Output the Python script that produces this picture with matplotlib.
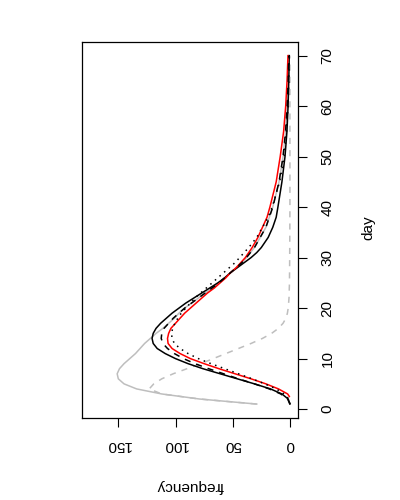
import matplotlib
matplotlib.use("Agg")
import matplotlib.pyplot as plt

plt.rcParams['font.family'] = ['Liberation Sans', 'DejaVu Sans']

# ---- data (day vs frequency) ----
bs_day = [1, 2, 3, 4, 5, 6, 7, 8, 9, 10, 11, 12, 13, 14, 15, 16, 17, 18, 19, 20,
          21, 22, 23, 24, 25, 26, 27, 28, 29, 30, 31, 32, 34, 36, 38, 40, 45, 50, 55, 60, 65, 70]
bs_freq = [0, 1.5, 7, 17, 31, 46, 61, 76, 89, 100, 109, 116, 119.5, 120.5, 119.5, 117, 113, 108, 103, 97,
           91, 84, 77, 70, 63, 57, 52, 46, 40, 34, 29, 25, 19, 15, 12, 10.5, 7, 4.3, 2.6, 1.6, 1.0, 0.6]

bd_day = [1, 2, 3, 4, 5, 6, 7, 8, 9, 10, 11, 12, 13, 14, 15, 16, 17, 18, 19, 20,
          21, 22, 23, 24, 25, 26, 27, 28, 29, 30, 32, 34, 36, 38, 40, 45, 50, 55, 60, 65, 70]
bd_freq = [0, 2, 8, 18, 31, 45, 58, 71, 83, 93, 101, 107, 111, 112.5, 112, 110, 106, 102, 97, 92,
           86, 80, 74, 68, 62, 57, 52, 47, 42, 38, 31, 26, 21, 18, 15, 9.5, 6, 3.8, 2.4, 1.5, 1.0]

red_day = [2.5, 3, 4, 5, 6, 7, 8, 9, 10, 11, 12, 13, 14, 15, 16, 17, 18, 19, 20,
           21, 22, 23, 24, 25, 26, 27, 28, 29, 30, 32, 34, 36, 38, 40, 45, 50, 55, 60, 65, 70]
red_freq = [0.5, 2, 10, 21, 34, 48, 62, 75, 87, 96, 103, 106.5, 107, 106, 104, 100, 96, 92, 87,
            82, 77, 72, 66, 61, 56, 52, 47, 43, 39, 33, 28, 24, 20, 17.5, 12, 8.5, 5.5, 3.7, 2.5, 1.7]

dt_day = [1, 2, 3, 4, 5, 6, 7, 8, 9, 10, 11, 12, 13, 14, 15, 16, 17, 18, 19, 20,
          21, 22, 23, 24, 25, 26, 27, 28, 29, 30, 32, 34, 36, 38, 40, 45, 50, 55, 60, 65, 70]
dt_freq = [0, 1, 5, 12, 22, 33, 45, 57, 69, 80, 89, 96, 101, 103, 103.5, 102.5, 100.5, 98, 95, 91,
           87, 83, 78, 73, 68, 63, 58, 53, 48, 44, 36, 29, 24, 19, 15.5, 9, 5, 3, 1.7, 1.0, 0.6]

gs_day = [1, 2, 3, 4, 5, 6, 7, 8, 9, 10, 11, 12, 13, 14, 15, 16, 17, 18, 19, 20,
          21, 22, 23, 24, 25, 26, 27, 28, 29, 30, 32, 34, 36, 38, 40, 45, 50, 55, 60, 65, 70]
gs_freq = [29, 79, 112, 134, 145, 150, 151, 149, 145, 140, 135, 131, 127, 122, 117, 111, 106, 101, 97, 92,
           86, 80, 74, 68, 62, 57, 52, 47, 42, 38, 31, 26, 21, 18, 15, 9.5, 6, 3.8, 2.4, 1.5, 1.0]

gd_day = [1, 2, 3, 4, 5, 6, 7, 8, 9, 10, 11, 12, 13, 14, 15, 16, 17, 18, 19, 20,
          22, 25, 30, 35, 40, 50, 60, 70]
gd_freq = [29, 79, 112, 123, 119, 112, 102, 90, 78, 67, 56, 45, 34, 24, 16, 10, 6, 3.5, 2.2, 1.5,
           0.8, 0.4, 0.2, 0.1, 0, 0, 0, 0]

freq_ticks = [0, 50, 100, 150]
day_ticks = [0, 10, 20, 30, 40, 50, 60, 70]

GRAY = '#BEBEBE'
FS = 11

fig = plt.figure(figsize=(4, 5), dpi=100)
ax = fig.add_axes([81.7 / 400, 1 - 418 / 500, (297.7 - 81.7) / 400, (418 - 41.7) / 500])

lw = 1.1
ax.plot(gs_freq, gs_day, color=GRAY, lw=lw)
ax.plot(gd_freq, gd_day, color=GRAY, lw=lw, linestyle=(0, (4, 4)))
ax.plot(bs_freq, bs_day, color='black', lw=lw)
ax.plot(red_freq, red_day, color='red', lw=lw)
ax.plot(bd_freq, bd_day, color='black', lw=lw, linestyle=(0, (4, 4)))
ax.plot(dt_freq, dt_day, color='black', lw=lw, linestyle=(0, (1, 3)))

ax.set_xlim(182, -6.8)
ax.set_ylim(-1.76, 72.76)

ax.set_xticks(freq_ticks)
ax.set_xticklabels([str(t) for t in freq_ticks])
ax.set_yticks(day_ticks)
ax.set_yticklabels([str(t) for t in day_ticks])
ax.yaxis.tick_right()

ax.tick_params(axis='x', length=6.5, width=0.8, pad=8, labelsize=FS, labelrotation=180, direction='out')
ax.tick_params(axis='y', length=6.5, width=0.8, pad=10, labelsize=FS, direction='out')
for lab in ax.get_yticklabels():
    lab.set_rotation(90)
    lab.set_va('center')
    lab.set_ha('left')

for s in ax.spines.values():
    s.set_linewidth(0.9)

fig.text(190 / 400, 1 - 486 / 500, 'frequency', rotation=180, ha='center', va='center', fontsize=FS)
fig.text(368 / 400, 1 - 228 / 500, 'day', rotation=90, ha='center', va='center', fontsize=FS)

fig.savefig('out.png', dpi=100)
